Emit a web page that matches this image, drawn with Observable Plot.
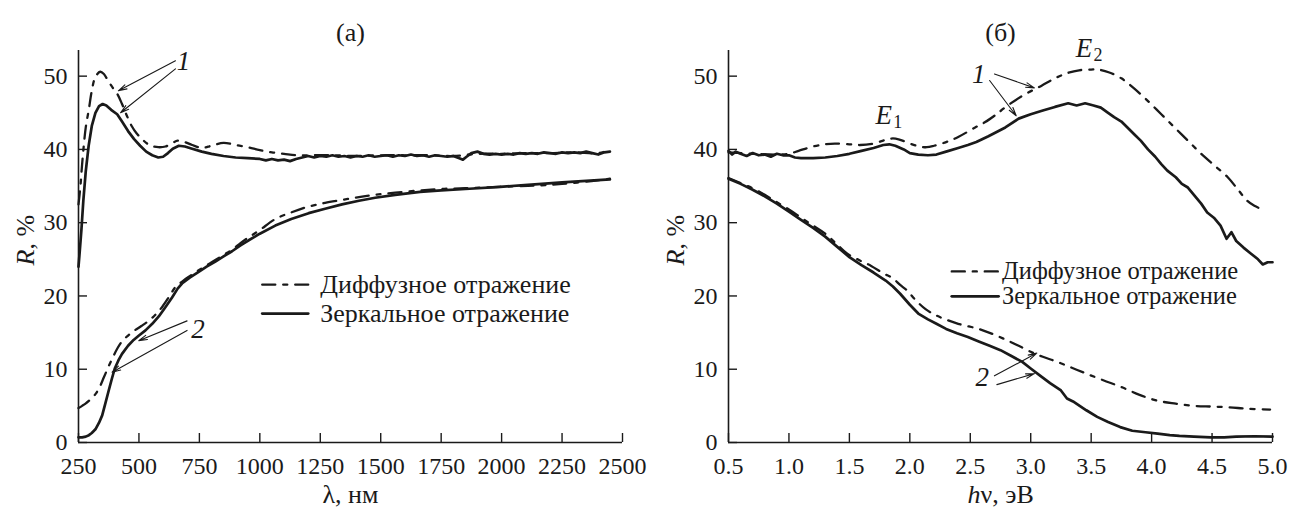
<!DOCTYPE html>
<html>
<head>
<meta charset="utf-8">
<script src="https://cdn.jsdelivr.net/npm/d3@7"></script>
<script src="https://cdn.jsdelivr.net/npm/@observablehq/plot@0.6"></script>
<style>
  body { margin: 0; background: #fff; }
  #fig { display: flex; width: 1300px; height: 516px; }
  #fig svg, #fig svg text { font-family: "Liberation Serif", "Times New Roman", Times, "DejaVu Serif", serif !important; }
</style>
</head>
<body>
<div id="fig"></div>
<script>
// ---------- data: panel (а), wavelength in nm vs R, % ----------
const diffuse1L = [[250,32.5],[258,35],[265,38],[280,43],[293,45.5],[305,48],[320,49.9],[340,50.6],[355,50.3],[370,49.5],[390,48.5],[410,47.6],[430,46.2],[450,44.6],[470,43.2],[490,42.2],[510,41.5],[530,40.9],[550,40.5],[580,40.3],[610,40.4],[640,40.9],[660,41.2],[690,41.0],[720,40.6],[760,40.2],[800,40.5],[850,40.9],[900,40.6],[950,40.3],[1000,39.9],[1050,39.6],[1100,39.4],[1150,39.2],[1200,39.2],[1300,39.2],[1400,39.1],[1500,39.2],[1600,39.2],[1700,39.2],[1800,39.1],[1900,39.4],[2000,39.4],[2100,39.5],[2200,39.5],[2300,39.6],[2400,39.5],[2448,39.9]];
const specular1L = [[250,24],[255,26],[262,29],[270,33],[280,37],[292,40.5],[305,43.2],[320,45],[335,45.9],[350,46.2],[365,46],[385,45.4],[410,44.8],[430,43.8],[455,42.5],[480,41.4],[505,40.5],[530,39.7],[555,39.2],[580,38.9],[600,39.0],[620,39.5],[640,40.1],[665,40.5],[690,40.4],[720,40.1],[760,39.7],[800,39.4],[850,39.1],[900,38.9],[950,38.8],[1000,38.7],[1025,38.5],[1050,38.7],[1075,38.5],[1100,38.6],[1125,38.4],[1150,38.7],[1175,38.9],[1200,39.1],[1225,38.9],[1250,39.1],[1275,39.0],[1300,39.2],[1325,39.0],[1350,39.1],[1375,38.9],[1400,39.1],[1425,39.0],[1450,39.2],[1475,39.0],[1500,39.1],[1525,39.2],[1550,39.0],[1575,39.2],[1600,39.1],[1625,39.3],[1650,39.1],[1675,39.2],[1700,39.0],[1725,39.2],[1750,39.1],[1775,39.0],[1800,39.1],[1825,38.8],[1840,38.6],[1855,39.0],[1875,39.5],[1900,39.7],[1925,39.4],[1950,39.3],[1975,39.4],[2000,39.3],[2025,39.4],[2050,39.3],[2075,39.5],[2100,39.4],[2125,39.5],[2150,39.4],[2175,39.6],[2200,39.5],[2225,39.4],[2250,39.6],[2275,39.5],[2300,39.6],[2325,39.5],[2350,39.7],[2375,39.5],[2400,39.3],[2425,39.6],[2448,39.7]];
const diffuse2L = [[250,4.7],[265,5.0],[279,5.3],[300,5.9],[320,6.6],[338,7.6],[355,8.9],[372,10.2],[389,11.4],[410,12.8],[430,13.8],[455,14.6],[478,15.2],[510,15.9],[540,16.6],[570,17.5],[596,18.5],[625,19.9],[651,21.2],[680,22.0],[710,22.7],[747,23.5],[780,24.2],[816,24.9],[850,25.6],[885,26.3],[920,27.2],[954,28.0],[1000,29.0],[1064,30.5],[1130,31.4],[1202,32.2],[1270,32.7],[1340,33.1],[1410,33.5],[1477,33.8],[1560,34.1],[1663,34.4],[1750,34.6],[1850,34.7],[1994,34.9],[2080,35.0],[2166,35.1],[2250,35.3],[2350,35.6],[2448,36.0]];
const specular2L = [[250,0.7],[265,0.7],[280,0.8],[293,1.0],[305,1.3],[320,1.8],[335,2.7],[348,3.7],[360,5.2],[375,7.1],[388,8.7],[400,10.1],[415,11.2],[430,12.1],[455,13.2],[478,14.0],[500,14.6],[527,15.3],[555,16.2],[582,17.2],[610,18.5],[637,19.8],[660,21.0],[678,21.7],[710,22.5],[747,23.3],[780,24.0],[816,24.7],[850,25.4],[885,26.1],[920,26.9],[954,27.6],[1000,28.5],[1064,29.6],[1130,30.5],[1202,31.3],[1270,31.9],[1340,32.5],[1410,33.0],[1477,33.4],[1560,33.8],[1663,34.2],[1750,34.4],[1850,34.6],[1994,34.9],[2080,35.1],[2166,35.3],[2250,35.5],[2350,35.7],[2448,35.9]];

// ---------- data: panel (б), photon energy in eV vs R, % ----------
const diffuse1R = [[0.5,39.6],[0.7,39.4],[0.9,39.3],[1.0,39.4],[1.08,39.8],[1.2,40.4],[1.3,40.7],[1.38,40.8],[1.5,40.7],[1.59,40.6],[1.7,40.8],[1.8,41.3],[1.86,41.5],[1.92,41.3],[2.0,40.8],[2.08,40.4],[2.14,40.3],[2.2,40.5],[2.3,41.0],[2.4,41.7],[2.54,43.0],[2.62,43.7],[2.7,44.6],[2.81,46.0],[2.95,47.5],[3.09,48.7],[3.2,49.7],[3.3,50.4],[3.4,50.8],[3.5,50.9],[3.56,50.9],[3.65,50.5],[3.75,49.7],[3.85,48.4],[3.97,46.6],[4.08,44.8],[4.19,43.0],[4.3,41.2],[4.41,39.4],[4.52,37.8],[4.63,36.2],[4.72,34.4],[4.79,33.0],[4.85,32.3],[4.92,31.8]];
const specular1R = [[0.5,39.8],[0.53,39.3],[0.56,39.7],[0.6,39.4],[0.65,39.1],[0.7,39.5],[0.75,39.2],[0.8,39.3],[0.85,39.0],[0.9,39.4],[0.95,39.2],[1.0,39.2],[1.05,38.9],[1.1,38.8],[1.2,38.8],[1.3,38.9],[1.4,39.1],[1.5,39.4],[1.6,39.8],[1.7,40.2],[1.78,40.6],[1.83,40.7],[1.88,40.5],[1.95,40.0],[2.0,39.5],[2.07,39.3],[2.15,39.2],[2.22,39.3],[2.3,39.7],[2.4,40.2],[2.48,40.6],[2.55,41.0],[2.65,41.8],[2.79,43.0],[2.9,44.2],[3.0,44.8],[3.1,45.3],[3.2,45.8],[3.31,46.3],[3.38,46.0],[3.45,46.3],[3.52,46.0],[3.58,45.7],[3.64,45.0],[3.69,44.4],[3.75,43.8],[3.8,43.0],[3.86,42.0],[3.91,41.2],[3.97,40.0],[4.03,39.0],[4.08,38.0],[4.13,37.1],[4.2,36.2],[4.25,35.3],[4.3,34.8],[4.36,33.6],[4.41,32.6],[4.46,31.4],[4.52,30.6],[4.57,29.6],[4.62,27.8],[4.66,28.7],[4.7,27.5],[4.76,26.6],[4.82,25.8],[4.88,25.0],[4.92,24.3],[4.96,24.6],[5.0,24.6]];
const diffuse2R = [[0.5,36.1],[0.6,35.4],[0.7,34.7],[0.8,33.8],[0.9,32.8],[1.0,31.8],[1.1,30.7],[1.2,29.6],[1.3,28.5],[1.4,27.0],[1.48,25.8],[1.58,24.9],[1.68,24.1],[1.78,23.1],[1.86,22.4],[1.92,21.5],[1.98,20.7],[2.05,19.4],[2.13,18.2],[2.2,17.5],[2.28,16.9],[2.4,16.2],[2.57,15.5],[2.7,14.7],[2.81,13.9],[2.9,13.2],[3.01,12.3],[3.1,11.7],[3.22,11.0],[3.34,10.2],[3.46,9.4],[3.6,8.5],[3.76,7.5],[3.9,6.5],[4.05,5.7],[4.2,5.3],[4.35,5.0],[4.5,4.9],[4.64,4.8],[4.8,4.6],[4.98,4.5]];
const specular2R = [[0.5,36.0],[0.6,35.3],[0.7,34.5],[0.8,33.6],[0.9,32.6],[1.0,31.5],[1.1,30.4],[1.2,29.3],[1.3,28.1],[1.4,26.7],[1.5,25.3],[1.6,24.2],[1.7,23.2],[1.8,22.1],[1.86,21.3],[1.92,20.3],[2.0,18.8],[2.07,17.6],[2.15,16.8],[2.22,16.2],[2.3,15.5],[2.39,14.9],[2.48,14.4],[2.57,13.8],[2.66,13.2],[2.75,12.6],[2.84,11.8],[2.93,11.0],[3.0,10.1],[3.08,9.1],[3.16,8.1],[3.25,7.1],[3.3,6.0],[3.35,5.6],[3.46,4.4],[3.55,3.5],[3.64,2.8],[3.74,2.1],[3.84,1.6],[3.95,1.4],[4.05,1.2],[4.15,1.0],[4.23,0.9],[4.35,0.8],[4.49,0.7],[4.6,0.7],[4.7,0.8],[4.85,0.85],[5.0,0.8]];

// ---------- ticks and labels ----------
const xTicksL = [250, 500, 750, 1000, 1250, 1500, 1750, 2000, 2250, 2500];
const xTicksR = [0.5, 1.0, 1.5, 2.0, 2.5, 3.0, 3.5, 4.0, 4.5, 5.0];
const yTicks = [0, 10, 20, 30, 40, 50];
const seriesNames = ["Диффузное отражение", "Зеркальное отражение"];
const titles = ["(а)", "(б)"];

// ---------- annotations (data coordinates) ----------
const arrowsL = [
  {x1: 651, y1: 52.1, x2: 415, y2: 48.0},
  {x1: 651, y1: 51.0, x2: 424, y2: 45.0},
  {x1: 699, y1: 16.6, x2: 499, y2: 13.9},
  {x1: 699, y1: 15.3, x2: 389, y2: 9.6}
];
const labelsL = [{x: 684, y: 52.0, t: "1"}, {x: 744, y: 15.5, t: "2"}];
const arrowsR = [
  {x1: 2.70, y1: 50.3, x2: 3.03, y2: 48.4},
  {x1: 2.66, y1: 49.4, x2: 2.88, y2: 44.6},
  {x1: 2.70, y1: 9.1, x2: 3.05, y2: 12.2},
  {x1: 2.72, y1: 7.9, x2: 3.03, y2: 9.4}
];
const labelsR = [{x: 2.57, y: 50.3, t: "1"}, {x: 2.60, y: 8.9, t: "2"}];
const peaksR = [{x: 1.785, y: 44.7, sub: "1"}, {x: 3.44, y: 53.8, sub: "2"}];

// ---------- legend placement (data coordinates) ----------
const legendL = {x1: 1010, x2: 1200, xt: 1250, ys: [21.55, 17.6], size: 26};
const legendR = {x1: 2.347, x2: 2.734, xt: 2.763, ys: [23.35, 19.95], size: 24.5};

const INK = "#1a1a1a";
const DASH = "13,8,4,8";
const FONT = "Liberation Serif, Times New Roman, DejaVu Serif, serif";

function legendMarks(lg) {
  const rows = seriesNames.map((name, i) => ({name, y: lg.ys[i]}));
  return [
    Plot.line([[lg.x1, rows[0].y], [lg.x2, rows[0].y]], {x: d => d[0], y: d => d[1], stroke: INK, strokeWidth: 2.4, strokeDasharray: DASH}),
    Plot.line([[lg.x1, rows[1].y], [lg.x2, rows[1].y]], {x: d => d[0], y: d => d[1], stroke: INK, strokeWidth: 2.8}),
    Plot.text(rows, {x: () => lg.xt, y: "y", text: "name", textAnchor: "start", fontSize: lg.size, fill: INK})
  ];
}

function panel(cfg) {
  return Plot.plot({
    width: 650, height: 516,
    marginLeft: 78, marginRight: 28, marginTop: 50, marginBottom: 74,
    x: {domain: cfg.xDomain},
    y: {domain: [0, 53.5]},
    style: {fontFamily: FONT, background: "white", color: INK, overflow: "visible"},
    marks: [
      Plot.ruleX([cfg.xDomain[0]], {stroke: INK, strokeWidth: 1.6}),
      Plot.ruleY([0], {stroke: INK, strokeWidth: 1.6}),
      Plot.axisX(cfg.xTicks, {tickSize: -9, tickPadding: 23, tickFormat: cfg.fmt, fontSize: 24, strokeWidth: 1.4, label: null}),
      Plot.axisY(yTicks, {tickSize: -9, tickPadding: 20, fontSize: 24, strokeWidth: 1.4, label: null}),
      Plot.line(cfg.series[0], {x: d => d[0], y: d => d[1], stroke: INK, strokeWidth: 2.3, strokeDasharray: DASH, curve: "catmull-rom"}),
      Plot.line(cfg.series[1], {x: d => d[0], y: d => d[1], stroke: INK, strokeWidth: 2.3, strokeDasharray: DASH, curve: "catmull-rom"}),
      Plot.line(cfg.series[2], {x: d => d[0], y: d => d[1], stroke: INK, strokeWidth: 2.7}),
      Plot.line(cfg.series[3], {x: d => d[0], y: d => d[1], stroke: INK, strokeWidth: 2.7}),
      Plot.arrow(cfg.arrows, {x1: "x1", y1: "y1", x2: "x2", y2: "y2", stroke: INK, strokeWidth: 1.1, headLength: 12, headAngle: 30}),
      Plot.text(cfg.labels, {x: "x", y: "y", text: "t", fontStyle: "italic", fontSize: 27, fill: INK}),
      ...cfg.extra,
      ...legendMarks(cfg.legend),
      Plot.text([cfg.title], {text: d => d, frameAnchor: "top", dy: -28, fontSize: 26, fill: INK}),
      Plot.text(["R"], {text: d => d, frameAnchor: "left", dx: -53, dy: 3, rotate: -90, textAnchor: "end", fontStyle: "italic", fontSize: 26, fill: INK}),
      Plot.text([", %"], {text: d => d, frameAnchor: "left", dx: -53, dy: 3, rotate: -90, textAnchor: "start", fontSize: 26, fill: INK}),
      ...cfg.xLabel
    ]
  });
}

const left = panel({
  xDomain: [250, 2500], xTicks: xTicksL, fmt: d => String(d),
  series: [diffuse1L, diffuse2L, specular1L, specular2L],
  arrows: arrowsL, labels: labelsL, legend: legendL, title: titles[0], extra: [],
  xLabel: [Plot.text(["λ, нм"], {text: d => d, frameAnchor: "bottom", dy: 60, fontSize: 26, fill: INK})]
});

const right = panel({
  xDomain: [0.5, 5.0], xTicks: xTicksR, fmt: d => d.toFixed(1),
  series: [diffuse1R, diffuse2R, specular1R, specular2R],
  arrows: arrowsR, labels: labelsR, legend: legendR, title: titles[1],
  extra: [
    Plot.text(peaksR, {x: "x", y: "y", text: () => "E", fontStyle: "italic", fontSize: 27, fill: INK}),
    Plot.text(peaksR, {x: "x", y: "y", text: "sub", dx: 14, dy: 7, fontSize: 18, fill: INK})
  ],
  xLabel: [
    Plot.text(["h"], {text: d => d, frameAnchor: "bottom", dy: 60, dx: -20, textAnchor: "end", fontStyle: "italic", fontSize: 26, fill: INK}),
    Plot.text(["ν, эВ"], {text: d => d, frameAnchor: "bottom", dy: 60, dx: -20, textAnchor: "start", fontSize: 26, fill: INK})
  ]
});

document.getElementById("fig").append(left, right);
</script>
</body>
</html>
